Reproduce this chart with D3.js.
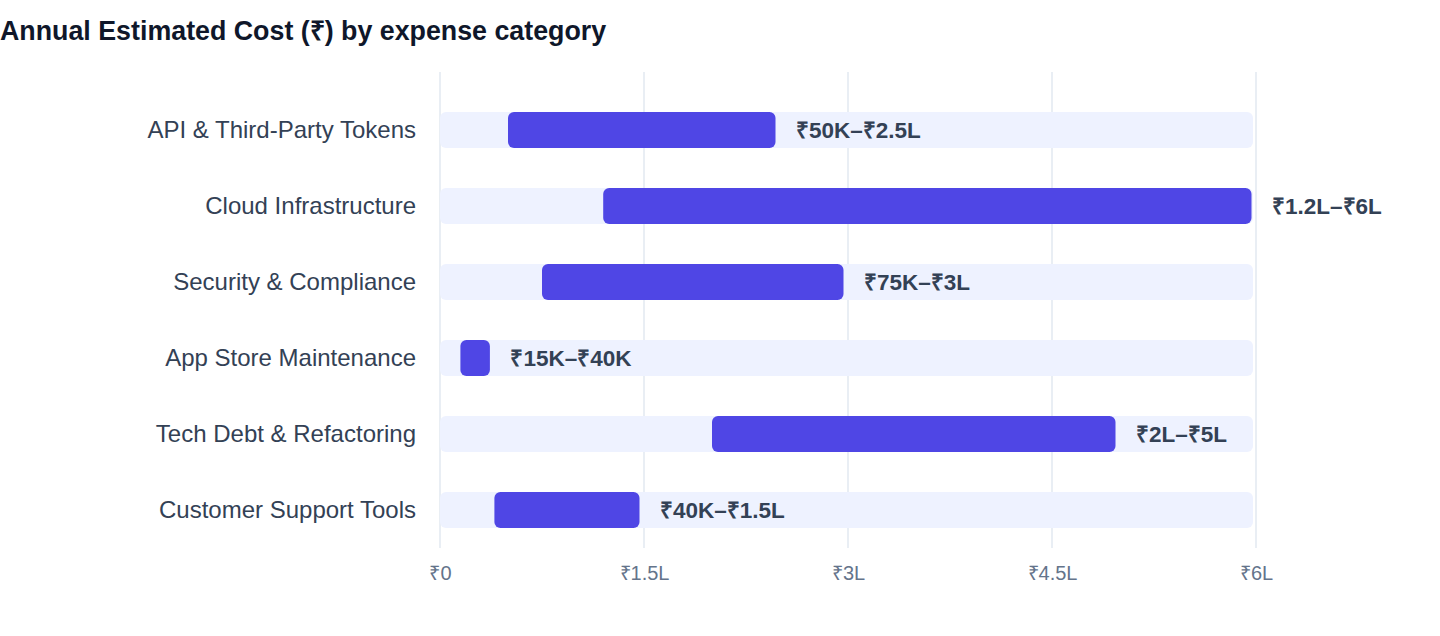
<!DOCTYPE html>
<html>
<head>
<meta charset="utf-8">
<script src="https://cdn.jsdelivr.net/npm/d3@7"></script>
<style>
  body { margin: 0; background: #fff; }
  svg { display: block; font-family: "Liberation Sans", Arial, Helvetica, sans-serif; }
</style>
</head>
<body>
<svg id="chart" width="1440" height="636"></svg>
<script>
const categories = [
  "API & Third-Party Tokens",
  "Cloud Infrastructure",
  "Security & Compliance",
  "App Store Maintenance",
  "Tech Debt & Refactoring",
  "Customer Support Tools"
];
const lowValues = [50000, 120000, 75000, 15000, 200000, 40000];
const highValues = [250000, 600000, 300000, 40000, 500000, 150000];
const rangeLabels = ["₹50K–₹2.5L", "₹1.2L–₹6L", "₹75K–₹3L", "₹15K–₹40K", "₹2L–₹5L", "₹40K–₹1.5L"];
const tickValues = [0, 150000, 300000, 450000, 600000];
const tickLabels = ["₹0", "₹1.5L", "₹3L", "₹4.5L", "₹6L"];

const data = categories.map((c, i) => ({ cat: c, lo: lowValues[i], hi: highValues[i], label: rangeLabels[i] }));

const svg = d3.select("#chart");
const margin = { top: 72, left: 440, right: 184, bottom: 88 };
const width = 1440, height = 636;

const x = d3.scaleLinear().domain([0, 600000]).range([margin.left, width - margin.right]);
const y = d3.scaleBand().domain(categories).range([92, height - margin.bottom])
  .paddingInner(40 / 76).paddingOuter(20 / 76);

svg.append("text")
  .attr("x", 0).attr("y", 40)
  .attr("font-size", 26.8).attr("font-weight", 700)
  .attr("fill", "#0f172a")
  .text("Annual Estimated Cost (₹) by expense category");

// gridlines
svg.append("g")
  .selectAll("line")
  .data(tickValues)
  .join("line")
  .attr("x1", d => x(d)).attr("x2", d => x(d))
  .attr("y1", margin.top).attr("y2", height - margin.bottom)
  .attr("stroke", "#e2e8f0").attr("stroke-width", 1.5);

// x axis labels
const xAxis = d3.axisBottom(x).tickValues(tickValues).tickFormat((d, i) => tickLabels[i]).tickSize(0).tickPadding(18);
svg.append("g")
  .attr("transform", `translate(0, ${height - margin.bottom})`)
  .call(xAxis)
  .call(g => g.select(".domain").remove())
  .call(g => g.selectAll("text")
    .attr("font-size", 20)
    .attr("fill", "#64748b")
    .attr("font-family", "Liberation Sans, Arial, sans-serif"));

// y axis labels
const yAxis = d3.axisLeft(y).tickSize(0).tickPadding(24);
svg.append("g")
  .attr("transform", `translate(${margin.left}, 0)`)
  .call(yAxis)
  .call(g => g.select(".domain").remove())
  .call(g => g.selectAll("text")
    .attr("font-size", 24)
    .attr("fill", "#334155")
    .attr("font-family", "Liberation Sans, Arial, sans-serif"));

// tracks
svg.append("g")
  .selectAll("rect")
  .data(data)
  .join("rect")
  .attr("x", x(0))
  .attr("y", d => y(d.cat))
  .attr("width", x(600000) - x(0) - 3)
  .attr("height", y.bandwidth())
  .attr("rx", 6)
  .attr("fill", "#eef2ff");

// range bars
svg.append("g")
  .selectAll("rect")
  .data(data)
  .join("rect")
  .attr("x", d => x(d.lo))
  .attr("y", d => y(d.cat))
  .attr("width", d => x(d.hi) - x(d.lo) - 4.5)
  .attr("height", y.bandwidth())
  .attr("rx", 6)
  .attr("fill", "#4f46e5");

// value labels
svg.append("g")
  .selectAll("text")
  .data(data)
  .join("text")
  .attr("x", d => x(d.hi) + 16)
  .attr("y", d => y(d.cat) + y.bandwidth() / 2)
  .attr("dy", "0.35em")
  .attr("font-size", 22.5)
  .attr("font-weight", 700)
  .attr("fill", "#334155")
  .text(d => d.label);
</script>
</body>
</html>
